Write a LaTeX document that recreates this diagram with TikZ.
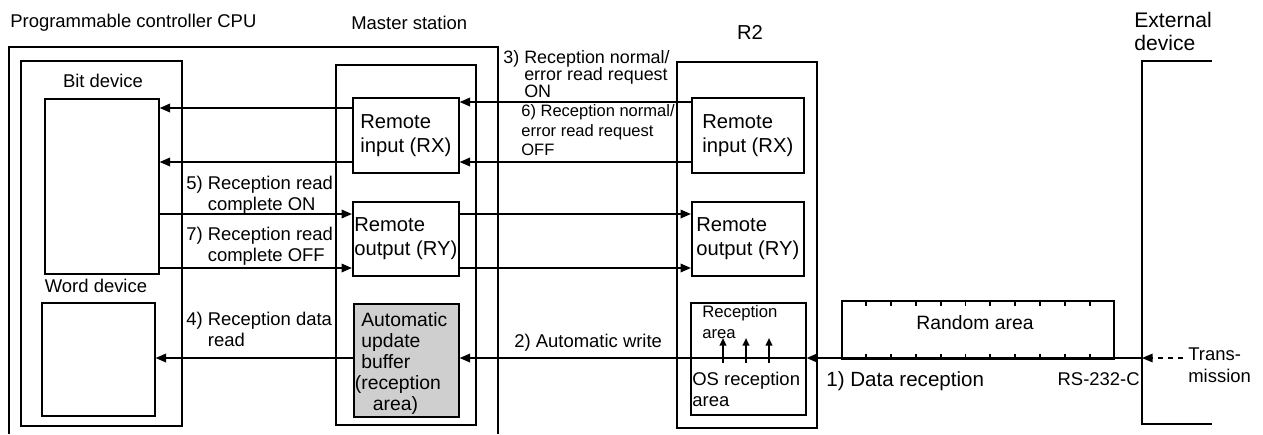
\documentclass[tikz,border=0pt]{standalone}
\usepackage{fontspec}
\setmainfont{Liberation Sans}
\usetikzlibrary{arrows.meta,calc}
\definecolor{raster}{HTML}{CFCFCF}
\tikzset{
  frm/.style={draw,line width=0.7pt},
  blk/.style={draw,line width=0.9pt,inner sep=0pt,anchor=north west,align=left,
    font=\fontsize{11.5}{13.7}\selectfont},
  sz/.style 2 args={minimum width=#1*0.02cm,minimum height=#2*0.02cm},
  lbl/.style={inner sep=0pt,align=left,font=\fontsize{10.5}{12}\selectfont},
  arr/.style={-{Triangle[length=2.1mm,width=1.7mm]},line width=1.1pt},
  arrs/.style={-{Triangle[length=1.5mm,width=1.3mm]},line width=1pt},
  bus/.style={line width=1.1pt},
}

\begin{document}
\begin{tikzpicture}[x=0.02cm,y=-0.02cm]
  \useasboundingbox (0,0) rectangle (1263,434);
  \draw[frm] (9,434) -- (9,47) -- (498,47) -- (498,434);
  \draw[frm] (21,61) rectangle (182,426);
  \draw[frm] (336,65) rectangle (476,425);
  \draw[frm] (677,62) rectangle (817,428);
  \draw[frm] (1212,61) -- (1142,61) -- (1142,424) -- (1212,424);

  \node[lbl,anchor=west] (plc) at (10,23) {Programmable controller CPU};
  \node[lbl,anchor=west] (mst) at (351,23) {Master station};
  \node[lbl,font=\fontsize{11.5}{13}\selectfont] (rtwo) at (750,32) {R2};
  \node[lbl,anchor=north west,font=\fontsize{12}{13.2}\selectfont] (extdev) at (1134,12) {External\\device};
  \node[lbl] (bitlbl) at (103,81) {Bit device};
  \node[lbl] (wordlbl) at (96,286) {Word device};

  \node[blk,sz={114}{175}] (bit) at (44,98) {};
  \node[blk,sz={113}{113}] (word) at (41,302) {};
  \node[blk,sz={106}{75}] (rxm) at (352,97) {Remote\\input (RX)};
  \node[blk,sz={106}{74}] (rym) at (352,201) {Remote\\output (RY)};
  \node[blk,sz={105}{113},fill=raster] (buf) at (353,303) {};
  \node[lbl,anchor=north west,font=\fontsize{11}{12}\selectfont] (buftxt) at (361,312)
    {Automatic\\update\\buffer\\\llap{(}reception\\\hspace{0.6em}area)};
  \node[blk,sz={112}{75}] (rx2) at (691,97) {Remote\\input (RX)};
  \node[blk,sz={112}{74}] (ry2) at (691,201) {Remote\\output (RY)};
  \node[blk,sz={115}{112}] (rcv) at (690,302) {};
  \node[lbl,anchor=north west,font=\fontsize{9.5}{12}\selectfont] (rcvtop) at (702,305) {Reception\\area};
  \node[lbl,anchor=north west] (rcvos) at (692,372) {OS reception\\area};
  \node[draw,bus,inner sep=0pt,anchor=north west,sz={272}{58}] (rand) at (841,300) {};
  \node[lbl,font=\fontsize{11}{12}\selectfont] (randtxt) at (975,323) {Random area};

  \coordinate (rA) at (0,108);
  \coordinate (rB) at (0,102);
  \coordinate (rC) at (0,162);
  \coordinate (rD) at (0,214);
  \coordinate (rE) at (0,268);
  \coordinate (rF) at (0,358);
  \coordinate (ext) at (1142,358);
  \coordinate (txs) at (1183,358);

  \draw[arr] (rxm.west |- rA) -- (bit.east |- rA);
  \draw[arr] (rxm.west |- rC) -- (bit.east |- rC);
  \draw[arr] (bit.east |- rD) -- (rym.west |- rD);
  \draw[arr] (bit.east |- rE) -- (rym.west |- rE);
  \draw[arr] (buf.west |- rF) -- (word.east |- rF);
  \draw[arr] (rx2.west |- rB) -- (rxm.east |- rB);
  \draw[arr] (rx2.west |- rC) -- (rxm.east |- rC);
  \draw[arr] (rym.east |- rD) -- (ry2.west |- rD);
  \draw[arr] (rym.east |- rE) -- (ry2.west |- rE);
  \draw[arr] (rcv.west |- rF) -- (buf.east |- rF);
  \draw[bus] (rcv.west |- rF) -- (rcv.east |- rF);
  \draw[arr] (ext) -- (rcv.east |- rF);
  \draw[arr,line width=0.8pt,dash pattern=on 1mm off 1mm] (txs) -- (ext);
  \foreach \dx in {33,56,79}
    \draw[arrs] ($(rcv.west |- rF)+(\dx,5)$) -- ++(0,-25);
  \foreach \i in {1,...,10} {
    \draw[bus] ($(rand.north west)!\i/11!(rand.north east)$) -- ++(0,6);
    \draw[bus] ($(rand.south west)!\i/11!(rand.south east)$) -- ++(0,-6);
  }

  \node[lbl,anchor=north west,font=\fontsize{10.2}{9.6}\selectfont] (lthree) at (503,50)
    {3) Reception normal/\\\hphantom{3)~}error read request\\\hphantom{3)~}ON};
  \node[lbl,anchor=north west,font=\fontsize{9.4}{11.2}\selectfont] (lsix) at (521,104)
    {6) Reception normal/\\error read request\\OFF};
  \node[lbl,anchor=north west] (lfive) at (186,176) {5) Reception read\\\hphantom{5)~}complete ON};
  \node[lbl,anchor=north west] (lseven) at (186,227) {7) Reception read\\\hphantom{7)~}complete OFF};
  \node[lbl,anchor=north west] (lfour) at (186,312) {4) Reception data\\\hphantom{4)~}read};
  \node[lbl,anchor=north west] (ltwo) at (514,334) {2) Automatic write};
  \node[lbl,anchor=north west,font=\fontsize{11.7}{13}\selectfont] (lone) at (826,371) {1) Data reception};
  \node[lbl,anchor=north east] (lrs) at (1140,372) {RS-232-C};
  \node[lbl,anchor=north west,font=\fontsize{10.5}{12.5}\selectfont] (ltx) at (1188,347) {Trans-\\mission};
\end{tikzpicture}
\end{document}
